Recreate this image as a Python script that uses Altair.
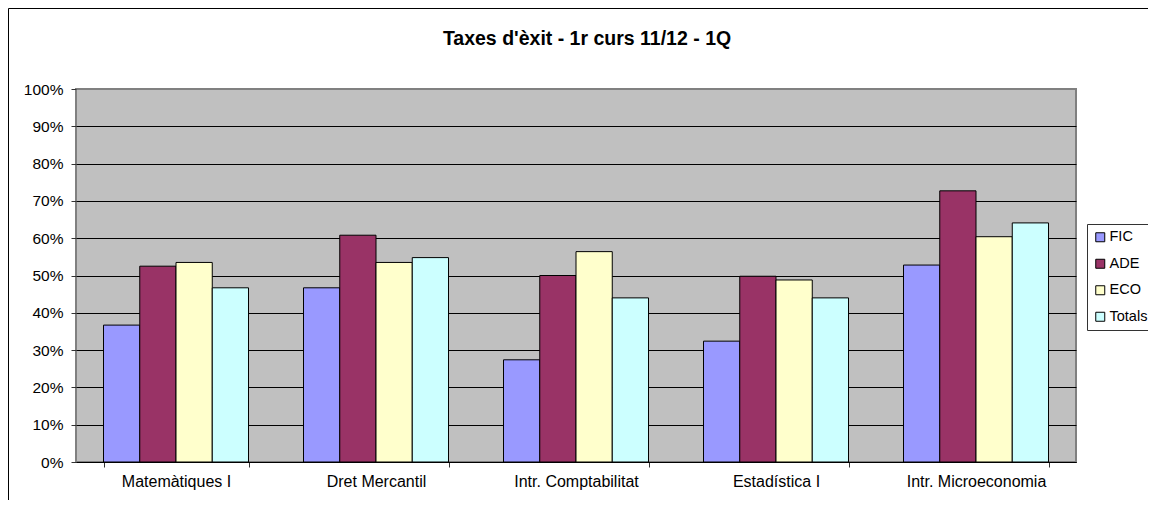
import altair as alt
import pandas as pd

categories = ["Matemàtiques I", "Dret Mercantil", "Intr. Comptabilitat", "Estadística I", "Intr. Microeconomia"]
series = ["FIC", "ADE", "ECO", "Totals"]
fic = [36.7, 46.7, 27.4, 32.4, 52.8]
ade = [52.5, 60.8, 50.0, 49.8, 72.7]
eco = [53.5, 53.5, 56.4, 48.8, 60.4]
totals = [46.7, 54.8, 44.0, 44.0, 64.1]
colors = ["#9999FF", "#993366", "#FFFFCC", "#CCFFFF"]
title_text = "Taxes d'èxit - 1r curs 11/12 - 1Q"

rows = []
for s, vals in zip(series, [fic, ade, eco, totals]):
    for c, v in zip(categories, vals):
        rows.append({"cat": c, "series": s, "value": v / 100.0})
df = pd.DataFrame(rows)

FONT = "Liberation Sans"

bars = alt.Chart(df).mark_bar(stroke="black", strokeWidth=1).encode(
    x=alt.X("cat:N", sort=categories, title=None,
            scale=alt.Scale(paddingInner=0.275, paddingOuter=0.1375),
            axis=alt.Axis(labelAngle=0, labelFont=FONT, labelFontSize=16, labelColor="black",
                          labelPadding=6, tickBand="extent", tickSize=5, tickColor="#333333",
                          domainColor="black", domainWidth=1, grid=False)),
    xOffset=alt.XOffset("series:N", sort=series, scale=alt.Scale(paddingInner=0, paddingOuter=0)),
    y=alt.Y("value:Q", title=None, scale=alt.Scale(domain=[0, 1], nice=False),
            axis=alt.Axis(format=".0%", values=[i / 10 for i in range(11)], labelFont=FONT,
                          labelFontSize=15.5, labelColor="black", labelPadding=8, tickSize=5,
                          tickColor="#333333", domain=False, grid=True,
                          gridColor={"condition": {"test": "datum.value >= 1", "value": "#808080"}, "value": "black"},
                          gridWidth=1)),
    color=alt.Color("series:N", sort=series, scale=alt.Scale(domain=series, range=colors),
                    legend=alt.Legend(title=None, orient="none", legendX=1011, legendY=135,
                                      labelFont=FONT, labelFontSize=14.5, labelColor="black",
                                      symbolType="square", symbolSize=81, symbolStrokeColor="black",
                                      symbolStrokeWidth=1, labelOffset=2, rowPadding=11.5,
                                      padding=6, strokeColor="#333333", fillColor="white")),
)

frame = alt.Chart(pd.DataFrame({"k": [0]})).mark_rect(fill="transparent", stroke="black", strokeWidth=1).encode(
    x=alt.value(-67.5), x2=alt.value(1100), y=alt.value(-80.5), y2=alt.value(440)
)

title = alt.Chart(pd.DataFrame({"t": [title_text]})).mark_text(
    font=FONT, fontSize=19.5, fontWeight="bold", color="black", align="center", baseline="alphabetic"
).encode(text="t:N", x=alt.value(511), y=alt.value(-44))

chart = alt.layer(frame, bars, title).properties(
    width=1000, height=373,
    padding={"left": 68, "top": 81, "right": 72, "bottom": 38},
    autosize=alt.AutoSizeParams(type="none"),
).configure(background="white").configure_view(fill="#C0C0C0", stroke="#808080", strokeWidth=2)

chart.save("out.html", embed_options={"renderer": "svg", "actions": False})
